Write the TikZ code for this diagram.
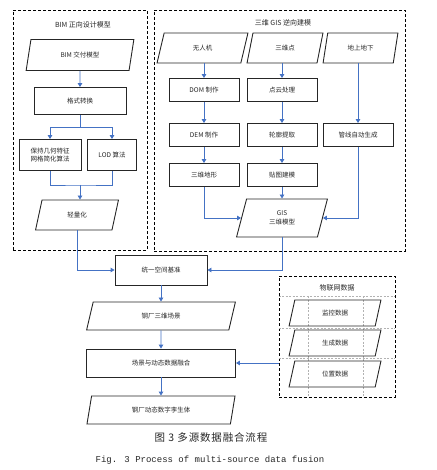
\documentclass[tikz,border=0pt]{standalone}
\usepackage{fontspec}
\usepackage{xcolor}
\usepackage{tikz}
\usetikzlibrary{arrows.meta,shapes.geometric}
\newfontfamily\cjkfont{Noto Sans CJK SC}
\newfontfamily\capcjk[LetterSpace=8]{Noto Sans CJK SC}
\newfontfamily\capmono{Liberation Mono}
\definecolor{FlowBlue}{HTML}{4472C4}
\definecolor{BoxInk}{HTML}{262626}
\tikzset{
  fbox/.style={
    draw=BoxInk,
    line width=0.9pt,
    align=center,
    inner sep=1pt,
    text=BoxInk,
    font=\cjkfont\fontsize{6.5}{8.5}\selectfont
  },
  fdata/.style={fbox, trapezium, trapezium left angle=76, trapezium right angle=104, trapezium stretches=true},
  fgroup/.style={draw=black, line width=0.8pt, dash pattern=on 3pt off 2pt},
  ftitle/.style={text=BoxInk, font=\cjkfont\fontsize{7}{8}\selectfont},
  fgrid/.style={draw=black!30, line width=0.4pt, dash pattern=on 2pt off 1.5pt},
  fflow/.style={-{Triangle[length=4pt,width=4.5pt]}, line width=0.9pt, draw=FlowBlue}
}

\begin{document}
\begin{tikzpicture}[x=1pt,y=-1pt]
  \useasboundingbox (0,0) rectangle (436,470);

  % BIM forward design
  \node[fgroup, minimum width=134pt, minimum height=240pt] (bimgrp) at (80,130) {};
  \node[ftitle] (bimtitle) at (83,25) {BIM 正向设计模型};
  \node[fdata, minimum width=108pt, minimum height=31pt] (bim) at (80,55) {BIM 交付模型};
  \node[fbox, minimum width=92pt, minimum height=27pt] (fmt) at (80,101) {格式转换};
  \node[fbox, minimum width=62pt, minimum height=31pt] (keep) at (50,155) {保持几何特征\\网格简化算法};
  \node[fbox, minimum width=49pt, minimum height=31pt] (lod) at (112,155) {LOD 算法};
  \node[fdata, minimum width=83pt, minimum height=30pt] (light) at (77,215) {轻量化};
  \coordinate (split) at (80,127);
  \coordinate (join) at (80,185);
  \draw[fflow] (bim) -- (fmt);
  \draw[line width=0.9pt, draw=FlowBlue] (fmt) -- (split);
  \draw[fflow] (split) -| (keep.north);
  \draw[fflow] (split) -| (lod.north);
  \draw[line width=0.9pt, draw=FlowBlue] (keep.south) |- (join) -| (lod.south);
  \draw[fflow] (join) -- (join |- light.north);

  % GIS reverse modelling
  \node[fgroup, minimum width=251pt, minimum height=241pt] (gisgrp) at (279.5,130.5) {};
  \node[ftitle] (gistitle) at (283,23) {三维 GIS 逆向建模};
  \node[fdata, minimum width=91pt, minimum height=30pt] (uav) at (202.5,48) {无人机};
  \node[fdata, minimum width=76pt, minimum height=30pt] (pts) at (285,48) {三维点};
  \node[fdata, minimum width=75pt, minimum height=30pt] (geo) at (360.5,48) {地上地下};
  \node[fbox, minimum width=70pt, minimum height=23pt] (dom) at (204,90) {DOM 制作};
  \node[fbox, minimum width=70pt, minimum height=23pt] (cloud) at (282,90) {点云处理};
  \node[fbox, minimum width=70pt, minimum height=23pt] (dem) at (204,135) {DEM 制作};
  \node[fbox, minimum width=70pt, minimum height=23pt] (contour) at (282,135) {轮廓提取};
  \node[fbox, minimum width=70pt, minimum height=23pt] (pipe) at (358,135) {管线自动生成};
  \node[fbox, minimum width=70pt, minimum height=23pt] (terrain) at (204,175) {三维地形};
  \node[fbox, minimum width=70pt, minimum height=23pt] (texture) at (282,175) {贴图建模};
  \node[fdata, minimum width=91pt, minimum height=38pt] (gis) at (282,218) {GIS\\三维模型};
  \draw[fflow] (dom.north |- uav.south) -- (dom.north);
  \draw[fflow] (cloud.north |- pts.south) -- (cloud.north);
  \draw[fflow] (pipe.north |- geo.south) -- (pipe.north);
  \draw[fflow] (dom) -- (dem);
  \draw[fflow] (cloud) -- (contour);
  \draw[fflow] (dem) -- (terrain);
  \draw[fflow] (contour) -- (texture);
  \draw[fflow] (texture) -- (gis);
  \draw[fflow] (terrain.south) |- (gis.west);
  \draw[fflow] (pipe.south) |- (gis.east);

  % fusion chain
  \node[fbox, minimum width=92pt, minimum height=30pt] (unify) at (161,270) {统一空间基准};
  \node[fdata, minimum width=149pt, minimum height=28pt] (scene) at (161,316) {钢厂三维场景};
  \node[fbox, minimum width=149pt, minimum height=28pt] (fusion) at (161,363) {场景与动态数据融合};
  \node[fdata, minimum width=149pt, minimum height=28pt] (twin) at (161,410) {钢厂动态数字孪生体};
  \draw[fflow] (light.south) |- (unify.west);
  \draw[fflow] (gis.south) |- (unify.east);
  \draw[fflow] (unify) -- (scene);
  \draw[fflow] (scene) -- (fusion);
  \draw[fflow] (fusion) -- (twin);

  % IoT data
  \node[fgroup, minimum width=116pt, minimum height=121pt] (iotgrp) at (337,336.5) {};
  \node[ftitle] (iottitle) at (337,288) {物联网数据};
  \foreach \y in {296,328,358}
    \draw[fgrid] (iotgrp.west |- 0,\y) -- (iotgrp.east |- 0,\y);
  \foreach \x in {308,363}
    \draw[fgrid] (\x,296) -- (\x,397);
  \node[fdata, minimum width=92pt, minimum height=26pt] (monitor) at (335,313) {监控数据};
  \node[fdata, minimum width=92pt, minimum height=26pt] (produce) at (335,343) {生成数据};
  \node[fdata, minimum width=92pt, minimum height=26pt] (position) at (335,374) {位置数据};
  \draw[fflow] (iotgrp.west |- fusion.east) -- (fusion.east);

  % captions
  \node[font=\capcjk\fontsize{10.5}{12}\selectfont, text=BoxInk] (capcn) at (211,438) {图 3 多源数据融合流程};
  \node[font=\capmono\fontsize{9}{10}\selectfont, text=BoxInk] (capen) at (210,460) {Fig. 3 Process of multi-source data fusion};
\end{tikzpicture}
\end{document}
